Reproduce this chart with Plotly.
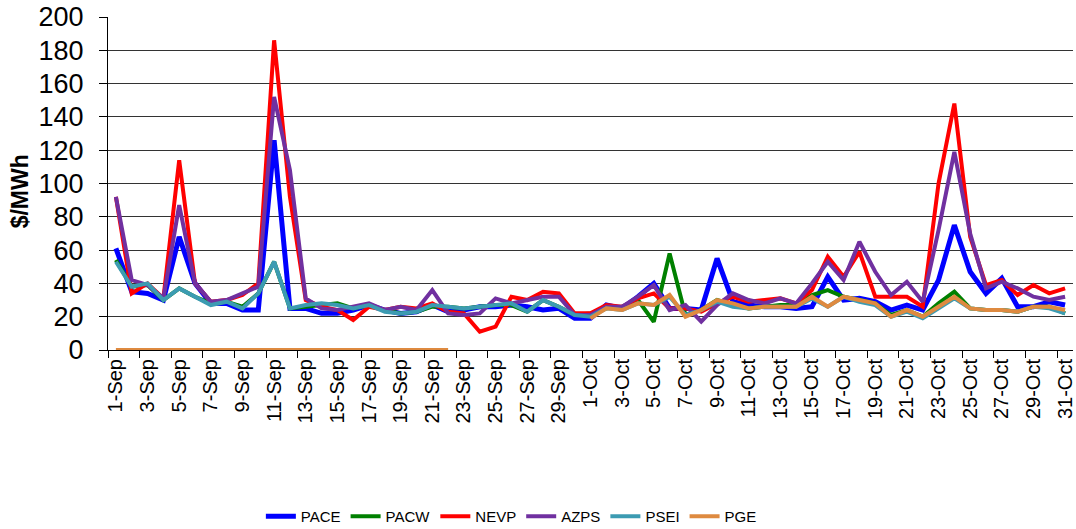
import plotly.graph_objects as go

days = [f"{d}-Sep" for d in range(1, 31)] + [f"{d}-Oct" for d in range(1, 32)]

pace = [61, 35, 34, 30, 68, 40, 28, 28, 24, 24, 126, 25, 25, 22, 22, 24, 27, 24, 22, 23,
        27, 23, 24, 26, 26, 27, 26, 24, 25, 19, 19, 27, 25, 32, 40, 25, 25, 24, 55, 29,
        27, 26, 26, 25, 26, 44, 30, 31, 29, 24, 27, 24, 42, 75, 47, 34, 43, 26, 26, 29, 27]
pacw = [54, 38, 39, 30, 37, 32, 28, 29, 26, 34, 53, 25, 26, 27, 28, 25, 27, 24, 22, 23,
        26, 26, 25, 26, 27, 27, 23, 30, 26, 21, 22, 25, 26, 30, 17, 58, 21, 24, 30, 27,
        25, 26, 27, 27, 33, 36, 32, 30, 28, 21, 24, 20, 28, 35, 25, 24, 24, 23, 26, 26, 22]
nevp = [92, 34, 40, 31, 114, 40, 29, 30, 33, 40, 186, 92, 30, 26, 24, 18, 26, 24, 26, 25,
        28, 23, 22, 11, 14, 32, 30, 35, 34, 22, 22, 27, 26, 31, 34, 25, 25, 23, 28, 32,
        29, 30, 31, 28, 36, 56, 44, 59, 32, 32, 32, 26, 100, 148, 68, 39, 42, 33, 39, 34, 37]
azps = [92, 42, 39, 31, 87, 40, 29, 30, 34, 38, 152, 108, 31, 25, 24, 26, 28, 24, 26, 24,
        36, 22, 21, 22, 31, 28, 30, 32, 32, 21, 21, 26, 26, 32, 39, 24, 27, 17, 27, 34,
        30, 28, 31, 28, 40, 53, 42, 65, 47, 33, 41, 29, 72, 119, 70, 37, 41, 37, 32, 30, 32]
psei = [53, 38, 40, 30, 37, 32, 27, 29, 25, 34, 53, 25, 27, 28, 27, 25, 27, 23, 22, 23,
        27, 26, 25, 26, 27, 28, 23, 30, 26, 21, 20, 25, 24, 28, 27, 32, 21, 24, 29, 26,
        25, 26, 26, 26, 31, 26, 32, 29, 27, 20, 23, 19, 25, 31, 25, 24, 24, 23, 26, 25, 22]
pge = [0] * 22 + [None] * 8 + [19, 25, 24, 28, 27, 33, 20, 24, 30, 28,
                               25, 26, 26, 26, 32, 26, 32, 30, 28, 20, 24, 20, 26, 32, 25,
                               24, 24, 23, 26, 26, 24]

series = [
    ("PACE", pace, "#0000FF", 5),
    ("PACW", pacw, "#008000", 4),
    ("NEVP", nevp, "#FF0000", 4),
    ("AZPS", azps, "#7030A0", 4),
    ("PSEI", psei, "#3C9BB2", 4),
    ("PGE", pge, "#DE8A40", 4),
]

fig = go.Figure()
for name, vals, color, w in series:
    fig.add_trace(go.Scatter(x=days, y=vals, name=name, mode="lines",
                             line=dict(color=color, width=w), connectgaps=False))

fig.update_layout(
    width=1076, height=529,
    margin=dict(l=108, r=3, t=17, b=179, autoexpand=False),
    plot_bgcolor="white", paper_bgcolor="white",
    font=dict(family="Liberation Sans, Arial, sans-serif", color="black"),
    legend=dict(orientation="h", x=0.418, xanchor="center", y=-0.50, yanchor="middle",
                font=dict(size=15), itemwidth=30, tracegroupgap=0),
    showlegend=True,
)
fig.update_xaxes(
    type="category", tickmode="linear", tick0=0, dtick=2, tickson="boundaries",
    tickangle=-90, tickfont=dict(size=20), ticks="outside", ticklen=7, tickcolor="black",
    showline=True, linecolor="black", linewidth=1, showgrid=False, automargin=False,
    range=[-0.5, 60.5],
)
fig.update_yaxes(
    range=[0, 200], tickmode="linear", tick0=0, dtick=20,
    tickfont=dict(size=27), ticks="outside", ticklen=8, tickcolor="black",
    ticklabelstandoff=10, automargin=False,
    showline=True, linecolor="black", linewidth=1,
    showgrid=True, gridcolor="#333333", gridwidth=1, zeroline=False,
)
fig.add_annotation(text="<b>$/MWh</b>", textangle=-90, xref="paper", yref="paper",
                   x=-0.091, y=0.477, showarrow=False, font=dict(size=23),
                   xanchor="center", yanchor="middle")

fig.write_html("out.html", config={"displayModeBar": False},
               post_script="document.body.style.margin='0px';document.body.style.overflow='hidden';")
